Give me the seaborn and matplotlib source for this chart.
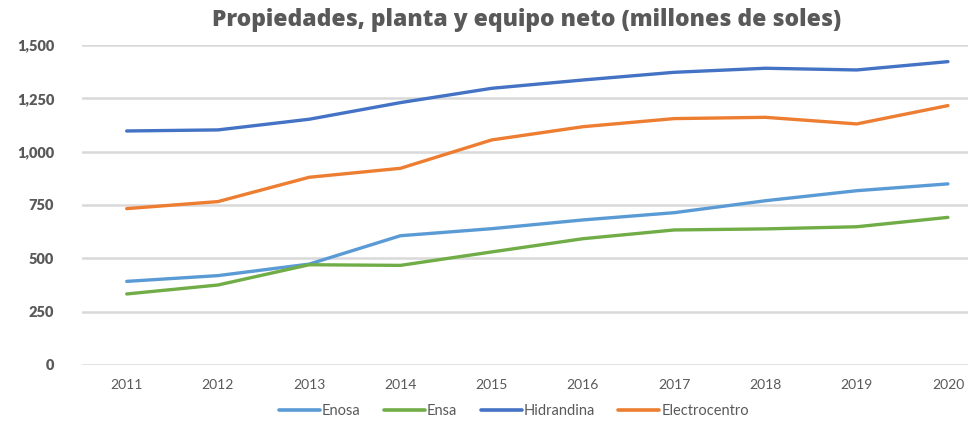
import matplotlib
matplotlib.use("Agg")
import matplotlib.pyplot as plt
import pandas as pd
import seaborn as sns
from matplotlib.ticker import FuncFormatter

# data (millones de soles)
years = [2011, 2012, 2013, 2014, 2015, 2016, 2017, 2018, 2019, 2020]
enosa = [392, 419, 473, 606, 639, 680, 714, 770, 817, 849]
ensa = [333, 375, 470, 467, 530, 592, 633, 638, 648, 692]
hidrandina = [1097, 1102, 1152, 1230, 1297, 1336, 1372, 1391, 1383, 1422]
electrocentro = [733, 766, 880, 922, 1055, 1117, 1155, 1161, 1130, 1216]

series = ["Enosa", "Ensa", "Hidrandina", "Electrocentro"]
colors = ["#5B9BD5", "#70AD47", "#4472C4", "#ED7D31"]

df = pd.DataFrame({
    "year": years * 4,
    "value": enosa + ensa + hidrandina + electrocentro,
    "empresa": [s for s in series for _ in years],
})

sns.set_theme(style="white")
plt.rcParams["font.family"] = ["Lato", "DejaVu Sans"]

fig = plt.figure(figsize=(9.72, 4.22), dpi=100)
ax = fig.add_axes([82 / 972, 1 - 365 / 422, 886 / 972, 320 / 422])

sns.lineplot(data=df, x="year", y="value", hue="empresa", hue_order=series,
             palette=colors, linewidth=2.4, ax=ax, legend=False)

ax.set_ylim(0, 1500)
ax.set_xlim(2011 - 0.49, 2020 + 0.22)
ax.set_yticks(range(0, 1501, 250))
ax.set_xticks(years)
ax.yaxis.set_major_formatter(FuncFormatter(lambda v, p: f"{int(v):,}"))
ax.grid(axis="y", color="#D9D9D9", linewidth=1.8)
ax.set_axisbelow(True)
for s in ax.spines.values():
    s.set_visible(False)
ax.set_xlabel("")
ax.set_ylabel("")
ax.tick_params(axis="both", length=0, colors="#595959")
ax.tick_params(axis="x", labelsize=10, pad=10)
ax.tick_params(axis="y", labelsize=10.5, pad=20)
for lbl in ax.get_yticklabels():
    lbl.set_fontweight("heavy")

fig.text(527 / 972, 1 - 20 / 422, "Propiedades, planta y equipo neto (millones de soles)",
         ha="center", va="center", fontsize=16.5, fontweight="heavy", color="#595959",
         family=["Open Sans", "DejaVu Sans"])

handles = [plt.Line2D([0], [0], color=c, linewidth=2.6) for c in colors]
fig.legend(handles, series, loc="center", bbox_to_anchor=(514 / 972, 1 - 411 / 422),
           ncol=4, frameon=False, fontsize=10.5, handlelength=2.8, handletextpad=0.15,
           columnspacing=1.6, labelcolor="#595959")

fig.savefig("out.png", dpi=100)
